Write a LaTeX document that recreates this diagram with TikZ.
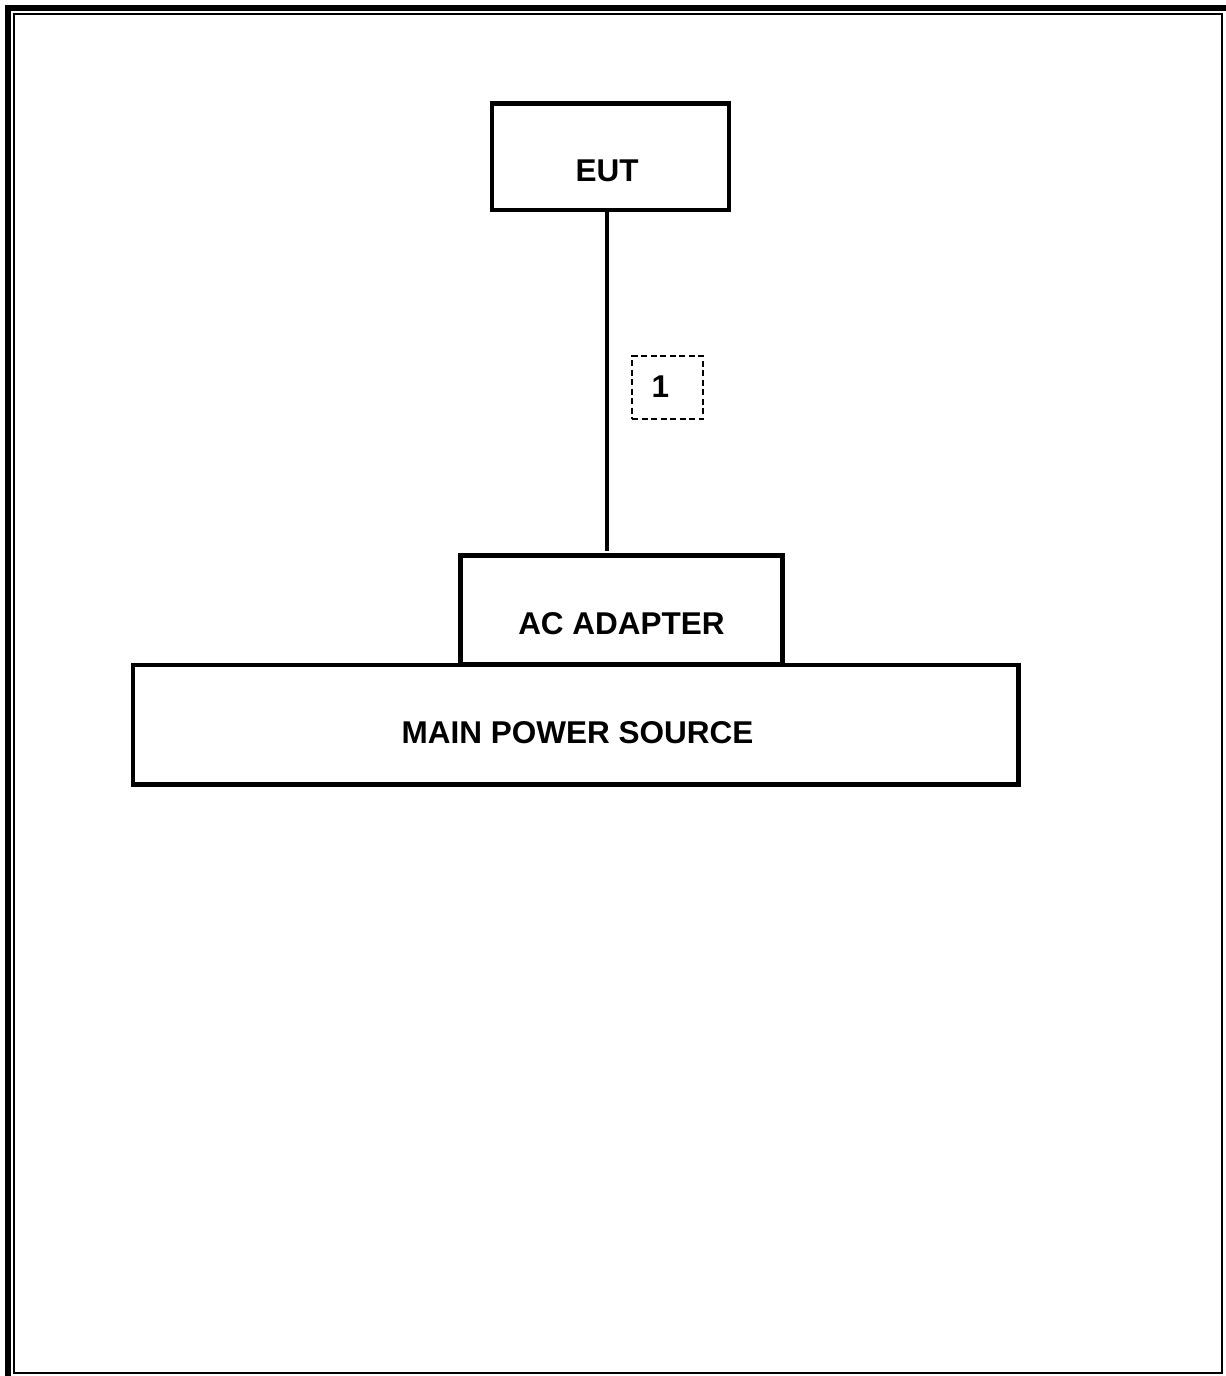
\documentclass[tikz,border=0pt]{standalone}
\usepackage{fontspec}
\setmainfont{Liberation Sans}
\begin{document}
\begin{tikzpicture}[x=1pt,y=-1pt,
  box/.style={draw=black,line width=4.5pt,inner sep=0pt,outer sep=0pt,fill=none},
  lbl/.style={inner sep=0pt,font=\fontsize{31.5}{36}\selectfont\bfseries},
  wire/.style={line width=4.5pt},
  numbox/.style={draw=black,line width=1.3pt,dash pattern=on 6pt off 3.5pt,inner sep=0pt,outer sep=0pt,minimum width=71pt,minimum height=63pt}]
\useasboundingbox (0,0) rectangle (1226,1376);
% frame
\fill[black] (5,5) rectangle (11,1376);
\fill[black] (5,5) rectangle (1226,11);
\draw[line width=2.5pt] (14,14) rectangle (1222,1373);
% boxes
\node[box,minimum width=237pt,minimum height=106.5pt] (eut) at (610.5,156.75) {};
\node[lbl] (eutlbl) at (607,171) {EUT};
\node[box,minimum width=885.5pt,minimum height=119.5pt] (main) at (575.75,724.75) {};
\node[lbl] (mainlbl) at (577.5,732.5) {MAIN POWER SOURCE};
\node[box,minimum width=322pt,minimum height=109pt] (adapter) at (621.5,610) {};
\node[lbl] (adlbl) at (621.5,623.5) {AC ADAPTER};
% cable
\coordinate (ctop) at (607,212);
\coordinate (cbot) at (607,551);
\draw[wire] (eut.south -| ctop) -- (cbot);
\node[numbox] (n1) at (667.5,387.5) {};
\node[lbl] (n1lbl) at (660.5,386.5) {1};
\end{tikzpicture}
\end{document}
